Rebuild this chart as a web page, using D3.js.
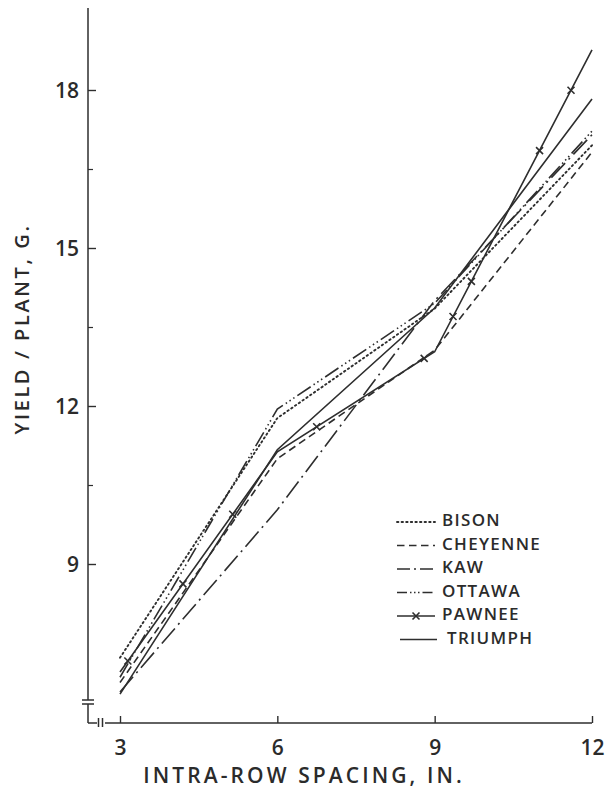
<!DOCTYPE html>
<html>
<head>
<meta charset="utf-8">
<script src="https://cdn.jsdelivr.net/npm/d3@7"></script>
<style>
  html, body { margin: 0; padding: 0; background: #ffffff; }
  svg { display: block; }
  text { font-family: "Open Sans", "Liberation Sans", sans-serif; font-weight: 600; fill: #2b2b2b; }
</style>
</head>
<body>
<svg id="chart" width="610" height="807"></svg>
<script>
// ---- data ----
const spacing = [3, 6, 9, 12];
const seriesNames = ["BISON", "CHEYENNE", "KAW", "OTTAWA", "PAWNEE", "TRIUMPH"];
const bison    = [7.22, 11.77, 13.85, 16.95];
const cheyenne = [6.75, 11.00, 13.06, 16.82];
const kaw      = [6.57, 10.03, 14.00, 17.15];
const ottawa   = [6.85, 11.94, 13.95, 17.22];
const pawnee   = [6.95, 11.13, 13.03, 18.76];
const triumph  = [6.53, 11.17, 13.86, 17.83];
const pawneeMarkerX = [3.15, 4.2, 5.15, 6.75, 8.8, 9.35, 9.7, 11.0, 11.6];
const xTicks = [3, 6, 9, 12];
const yTicks = [9, 12, 15, 18];
const yMinorTicks = [10.5, 13.5, 16.5];
const xTitle = "INTRA-ROW SPACING, IN.";
const yTitle = "YIELD / PLANT, G.";

const values = [bison, cheyenne, kaw, ottawa, pawnee, triumph];
const dashes = ["1.4,3.2", "7.5,4.5", "20,5,2,5", "16,3.5,1.5,3,1.5,3,1.5,3.5", null, null];
const legendDashes = ["1.4,3.2", "7.5,4.5", "13,4,2,4", "10,3,1.5,2.5,1.5,2.5,1.5,3", null, null];

const ink = "#2e2e2e";
const svg = d3.select("#chart");

const x = d3.scaleLinear().domain([3, 12]).range([120, 592]);
const y = d3.scaleLinear().domain([9, 18]).range([564, 90]);
const axisX0 = 88;     // y-axis position
const axisY0 = 723;    // x-axis position

// ---- y axis ----
const gy = svg.append("g").attr("transform", `translate(${axisX0},0)`);
gy.call(d3.axisLeft(y).tickValues(yTicks).tickSizeInner(-8).tickSizeOuter(0).tickPadding(9).tickFormat(d3.format("d")));
gy.select(".domain").remove();
gy.selectAll(".tick line").attr("stroke", ink).attr("stroke-width", 1.4);
gy.selectAll(".tick text").attr("font-size", 21).attr("fill", ink).style("font-family", '"Open Sans", sans-serif').style("font-weight", 600).attr("dy", "0.36em");

const gym = svg.append("g").attr("transform", `translate(${axisX0},0)`);
gym.call(d3.axisLeft(y).tickValues(yMinorTicks).tickSizeInner(-5).tickSizeOuter(0).tickFormat(""));
gym.select(".domain").remove();
gym.selectAll(".tick line").attr("stroke", ink).attr("stroke-width", 1.2);

// y axis line with break
const axisStyle = sel => sel.attr("stroke", ink).attr("stroke-width", 1.5).attr("fill", "none");
svg.append("line").attr("x1", axisX0).attr("x2", axisX0).attr("y1", 8).attr("y2", 700).call(axisStyle);
svg.append("line").attr("x1", axisX0).attr("x2", axisX0).attr("y1", 704).attr("y2", axisY0).call(axisStyle);
svg.append("line").attr("x1", axisX0 - 6).attr("x2", axisX0 + 6).attr("y1", 700).attr("y2", 700).call(axisStyle);
svg.append("line").attr("x1", axisX0 - 6).attr("x2", axisX0 + 6).attr("y1", 704).attr("y2", 704).call(axisStyle);

// ---- x axis ----
const gx = svg.append("g").attr("transform", `translate(0,${axisY0})`);
gx.call(d3.axisBottom(x).tickValues(xTicks).tickSizeInner(-7).tickSizeOuter(0).tickPadding(17).tickFormat(d3.format("d")));
gx.select(".domain").remove();
gx.selectAll(".tick line").attr("stroke", ink).attr("stroke-width", 1.4);
gx.selectAll(".tick text").attr("font-size", 21).attr("fill", ink).style("font-family", '"Open Sans", sans-serif').style("font-weight", 600);

svg.append("line").attr("x1", axisX0).attr("x2", 97).attr("y1", axisY0).attr("y2", axisY0).call(axisStyle);
svg.append("line").attr("x1", 105).attr("x2", x(12)).attr("y1", axisY0).attr("y2", axisY0).call(axisStyle);
svg.append("line").attr("x1", 98.5).attr("x2", 98.5).attr("y1", axisY0 - 5).attr("y2", axisY0 + 4).call(axisStyle);
svg.append("line").attr("x1", 102.5).attr("x2", 102.5).attr("y1", axisY0 - 5).attr("y2", axisY0 + 4).call(axisStyle);

// ---- titles ----
svg.append("text").attr("x", 304).attr("y", 783).attr("text-anchor", "middle")
  .attr("font-size", 21).style("letter-spacing", "3.1px").text(xTitle);
svg.append("text").attr("transform", "translate(29,329) rotate(-90)").attr("text-anchor", "middle")
  .attr("font-size", 20).style("letter-spacing", "2.6px").text(yTitle);

// ---- lines ----
const line = d3.line().x((d, i) => x(spacing[i])).y(d => y(d));
const gl = svg.append("g");
values.forEach((vals, k) => {
  gl.append("path").attr("d", line(vals)).attr("fill", "none").attr("stroke", ink)
    .attr("stroke-width", k === 0 ? 1.9 : 1.6)
    .attr("stroke-linecap", k === 0 ? "round" : "butt")
    .attr("stroke-dasharray", dashes[k]);
});

// Pawnee x markers along its line
const interp = (vals, xv) => {
  const i = Math.min(spacing.length - 2, Math.max(0, d3.bisectRight(spacing, xv) - 1));
  const t = (xv - spacing[i]) / (spacing[i + 1] - spacing[i]);
  return vals[i] + t * (vals[i + 1] - vals[i]);
};
const mk = 3.5;
pawneeMarkerX.forEach(xv => {
  const cx = x(xv), cy = y(interp(pawnee, xv));
  gl.append("path").attr("d", `M${cx - mk},${cy - mk}L${cx + mk},${cy + mk}M${cx - mk},${cy + mk}L${cx + mk},${cy - mk}`)
    .attr("stroke", ink).attr("stroke-width", 1.6).attr("fill", "none");
});

// ---- legend ----
const lg = svg.append("g");
const legendY0 = 520, legendStep = 23.5;
seriesNames.forEach((name, k) => {
  const ly = legendY0 + k * legendStep;
  const x1 = k === 5 ? 400 : 397, x2 = k === 5 ? 437 : 435;
  lg.append("line").attr("x1", x1).attr("x2", x2).attr("y1", ly + 2).attr("y2", ly + 2)
    .attr("stroke", ink).attr("stroke-width", k === 0 ? 1.9 : 1.6)
    .attr("stroke-linecap", k === 0 ? "round" : "butt")
    .attr("stroke-dasharray", legendDashes[k]);
  if (k === 4) {
    const cx = (x1 + x2) / 2, cy = ly + 2;
    lg.append("path").attr("d", `M${cx - mk},${cy - mk}L${cx + mk},${cy + mk}M${cx - mk},${cy + mk}L${cx + mk},${cy - mk}`)
      .attr("stroke", ink).attr("stroke-width", 1.6);
  }
  lg.append("text").attr("x", k === 5 ? 447 : 442).attr("y", ly).attr("dy", "0.36em")
    .attr("font-size", 17).style("letter-spacing", "1.3px").text(name);
});
</script>
</body>
</html>
